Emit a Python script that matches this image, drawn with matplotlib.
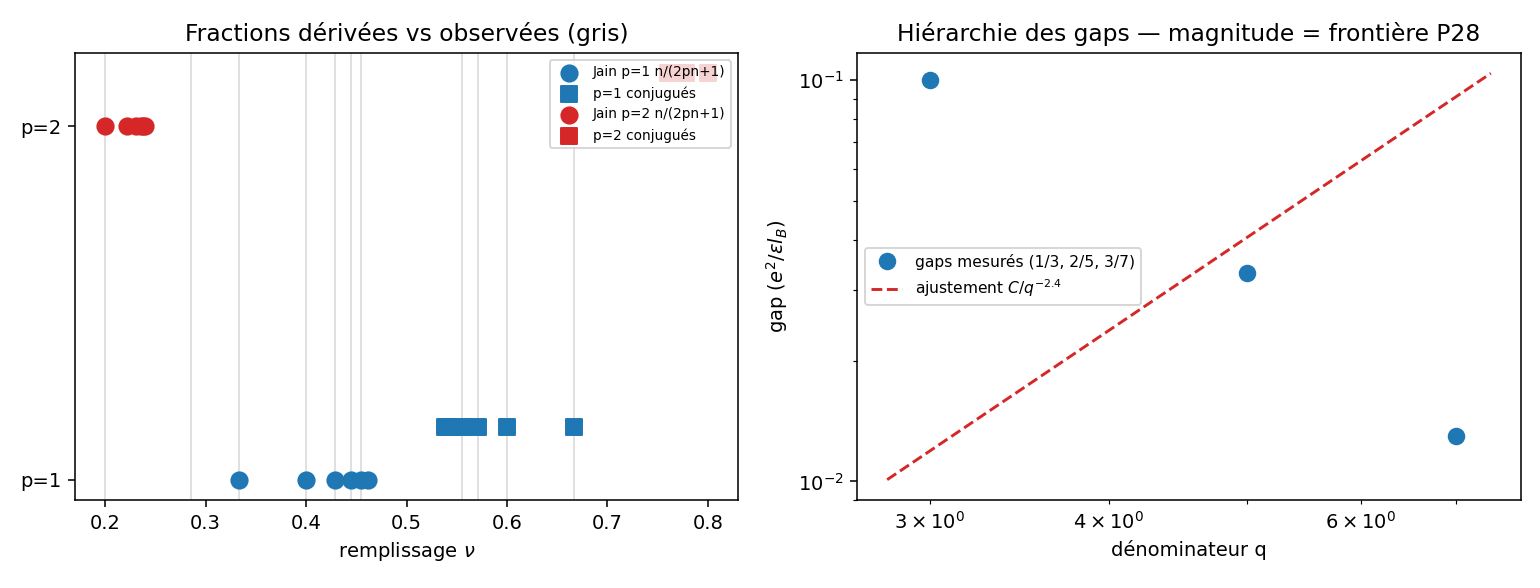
import numpy as np
import matplotlib
matplotlib.use("Agg")
import matplotlib.pyplot as plt

# --- data ---
n_vals = [1, 2, 3, 4, 5, 6]
jain_p1 = [1/3, 2/5, 3/7, 4/9, 5/11, 6/13]
conj_p1 = [2/3, 3/5, 4/7, 5/9, 6/11, 7/13]
jain_p2 = [1/5, 2/9, 3/13, 4/17, 5/21, 6/25]
conj_p2 = [4/5, 7/9, 10/13, 13/17, 16/21, 19/25]
observed = [1/5, 2/7, 1/3, 2/5, 3/7, 4/9, 5/11, 5/9, 4/7, 3/5, 2/3]
y_levels = [1, 2]
y_labels = ["p=1", "p=2"]
conj_offset = 0.15

q_meas = [3, 5, 7]
gap_meas = [0.1, 0.033, 0.013]
q_fit = [2.8, 7.4]
fit_exp = 2.4
fit_C = 0.0101 / 2.8**fit_exp

fig = plt.figure(figsize=(11, 4.2), dpi=140)
ax1 = fig.add_axes([75/1540, 1-500/588, (738-75)/1540, (500-53)/588])
ax2 = fig.add_axes([857/1540, 1-500/588, (1521-857)/1540, (500-53)/588])

for v in observed:
    ax1.axvline(v, color="0.88", lw=1, zorder=0)

ax1.scatter(jain_p1, [1]*len(jain_p1), s=70, color="#1f77b4", marker="o", label="Jain p=1 n/(2pn+1)")
ax1.scatter(conj_p1, [1+conj_offset]*len(conj_p1), s=70, color="#1f77b4", marker="s", label="p=1 conjugués")
ax1.scatter(jain_p2, [2]*len(jain_p2), s=70, color="#d62728", marker="o", label="Jain p=2 n/(2pn+1)")
ax1.scatter(conj_p2, [2+conj_offset]*len(conj_p2), s=70, color="#d62728", marker="s", label="p=2 conjugués")
ax1.set_yticks(y_levels)
ax1.set_yticklabels(y_labels)
ax1.set_xlabel(r"remplissage $\nu$")
ax1.set_title("Fractions dérivées vs observées (gris)")
ax1.legend(loc="upper right", fontsize=7)

qf = np.geomspace(q_fit[0], q_fit[1], 50)
ax2.plot(q_meas, gap_meas, "o", color="#1f77b4", markersize=8, label="gaps mesurés (1/3, 2/5, 3/7)")
ax2.plot(qf, fit_C*qf**fit_exp, "--", color="#d62728", lw=1.5, label=r"ajustement $C/q^{-2.4}$")
ax2.set_xscale("log")
ax2.set_yscale("log")
ax2.set_xlabel("dénominateur q")
ax2.set_ylabel(r"gap ($e^2/\varepsilon l_B$)")
ax2.set_title("Hiérarchie des gaps — magnitude = frontière P28")
ax2.legend(loc="center left", fontsize=8)

fig.savefig("out.png", dpi=140)
